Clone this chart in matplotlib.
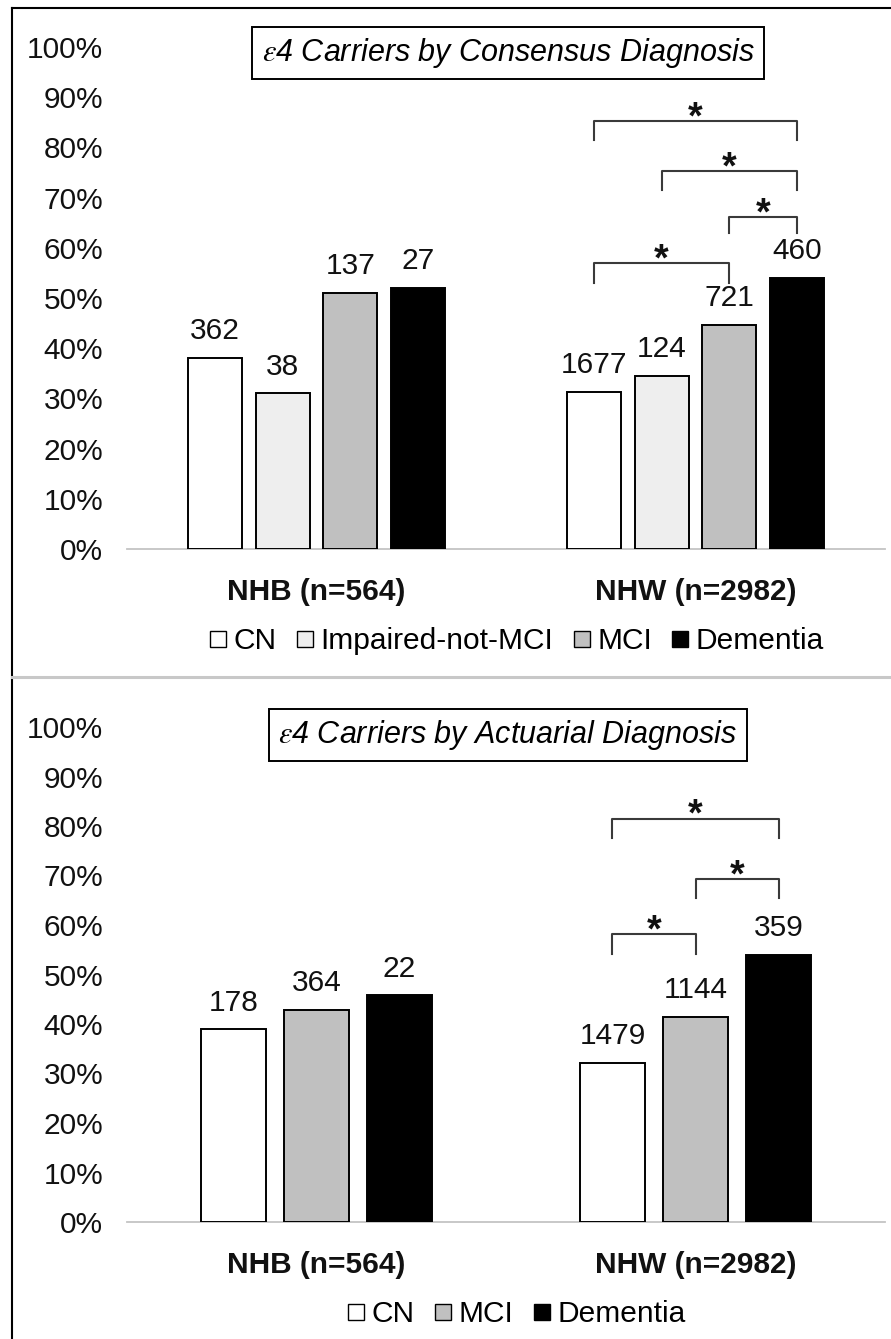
import matplotlib
matplotlib.use("Agg")
import matplotlib.pyplot as plt
from matplotlib.lines import Line2D

plt.rcParams['font.family'] = ['Liberation Sans', 'DejaVu Sans']
plt.rcParams['mathtext.fontset'] = 'stix'

# ---------------- data ----------------
groups = ["NHB (n=564)", "NHW (n=2982)"]

cons_categories = ["CN", "Impaired-not-MCI", "MCI", "Dementia"]
cons_pct = {  # percent e4 carriers, per group
    "CN": [38.0, 31.3],
    "Impaired-not-MCI": [31.0, 34.5],
    "MCI": [51.0, 44.6],
    "Dementia": [52.0, 54.0],
}
cons_n = {
    "CN": [362, 1677],
    "Impaired-not-MCI": [38, 124],
    "MCI": [137, 721],
    "Dementia": [27, 460],
}
# significance brackets within NHW: (cat a, cat b, bracket height %, leg bottom %)
cons_sig = [("CN", "Dementia", 85.2, 81.4),
            ("Impaired-not-MCI", "Dementia", 75.2, 71.5),
            ("MCI", "Dementia", 66.1, 62.9),
            ("CN", "MCI", 56.9, 52.9)]

act_categories = ["CN", "MCI", "Dementia"]
act_pct = {
    "CN": [38.9, 32.1],
    "MCI": [42.9, 41.4],
    "Dementia": [45.8, 54.0],
}
act_n = {
    "CN": [178, 1479],
    "MCI": [364, 1144],
    "Dementia": [22, 359],
}
act_sig = [("CN", "Dementia", 81.5, 77.6),
           ("MCI", "Dementia", 69.2, 65.5),
           ("CN", "MCI", 58.1, 54.2)]

yticks = list(range(0, 101, 10))
ytick_labels = [f"{t}%" for t in yticks]

colors = {"CN": "#ffffff", "Impaired-not-MCI": "#eeeeee",
          "MCI": "#c0c0c0", "Dementia": "#000000"}

# ---------------- figure ----------------
W, H = 891, 1339
fig = plt.figure(figsize=(W / 100, H / 100), dpi=100)
fig.patch.set_facecolor("white")

FS = 21.5


def px_axes(x0, x1, y_top, y_bot):
    return fig.add_axes([x0 / W, 1 - y_bot / H, (x1 - x0) / W, (y_bot - y_top) / H])


def draw_panel(ax, cats, pct, ns, sig, width, step):
    k = len(cats)
    centers = {}
    for i, c in enumerate(cats):
        off = (i - (k - 1) / 2) * step
        xs = [g + off for g in range(len(groups))]
        centers[c] = xs
        ax.bar(xs, pct[c], width=width, color=colors[c], edgecolor="black",
               linewidth=1.4, zorder=3)
        for x, v, n in zip(xs, pct[c], ns[c]):
            ax.annotate(str(n), (x, v), xytext=(0, 13.5), textcoords="offset points",
                        ha="center", va="baseline", fontsize=FS, color="#111111")
    for a, b, h, leg in sig:
        xa, xb = centers[a][1], centers[b][1]
        ax.plot([xa, xa, xb, xb], [leg, h, h, leg], color="#3a3a3a", lw=1.5,
                solid_joinstyle="round", zorder=4)
        ax.annotate("*", ((xa + xb) / 2, h), xytext=(0, -5), textcoords="offset points",
                    ha="center", va="baseline", fontsize=27, fontweight="bold",
                    color="#111111")
    ax.set_xlim(-0.5, 1.5)
    ax.set_ylim(0, 100)
    ax.set_yticks(yticks)
    ax.set_yticklabels(ytick_labels, fontsize=FS)
    ax.set_xticks(range(len(groups)))
    ax.set_xticklabels(groups, fontsize=FS, fontweight="bold")
    ax.tick_params(axis="y", length=0, pad=17, colors="#111111")
    ax.tick_params(axis="x", length=0, pad=21, colors="#111111")
    for s in ("left", "right", "top"):
        ax.spines[s].set_visible(False)
    ax.spines["bottom"].set_color("#c4c4c4")
    ax.spines["bottom"].set_linewidth(1.3)
    ax.set_facecolor("none")


ax1 = px_axes(127, 885, 47, 549)
draw_panel(ax1, cons_categories, cons_pct, cons_n, cons_sig, width=0.1425, step=0.179)

ax2 = px_axes(127, 885, 727, 1222)
draw_panel(ax2, act_categories, act_pct, act_n, act_sig, width=0.1715, step=0.219)

# titles in boxes
box = dict(boxstyle="square,pad=0.3", fc="white", ec="black", lw=1.4)
fig.text(508 / W, 1 - 53 / H, r"$\varepsilon$4 Carriers by Consensus Diagnosis",
         ha="center", va="center", fontsize=22, style="italic", bbox=box)
fig.text(508 / W, 1 - 735 / H, r"$\varepsilon$4 Carriers by Actuarial Diagnosis",
         ha="center", va="center", fontsize=22, style="italic", bbox=box)


def legend(cats, ycen):
    handles = [Line2D([], [], marker="s", linestyle="none", markersize=11,
                      markerfacecolor=colors[c], markeredgecolor="black",
                      markeredgewidth=1.0) for c in cats]
    fig.legend(handles, cats, loc="center", bbox_to_anchor=(515 / W, 1 - ycen / H),
               ncol=len(cats), frameon=False, fontsize=FS, handletextpad=0.12,
               columnspacing=0.55, handlelength=0.8, borderaxespad=0)


legend(cons_categories, 641)
legend(act_categories, 1314)

# frame and separator
fig.add_artist(Line2D([12 / W, 12 / W], [0, 1 - 8 / H], color="black", lw=1.5,
                      transform=fig.transFigure))
fig.add_artist(Line2D([12 / W, 1], [1 - 8 / H, 1 - 8 / H], color="black", lw=1.5,
                      transform=fig.transFigure))
fig.add_artist(Line2D([12 / W, 1], [1 - 677 / H, 1 - 677 / H], color="#c8c8c8", lw=2.2,
                      transform=fig.transFigure))

fig.savefig("out.png", dpi=100, facecolor="white")
